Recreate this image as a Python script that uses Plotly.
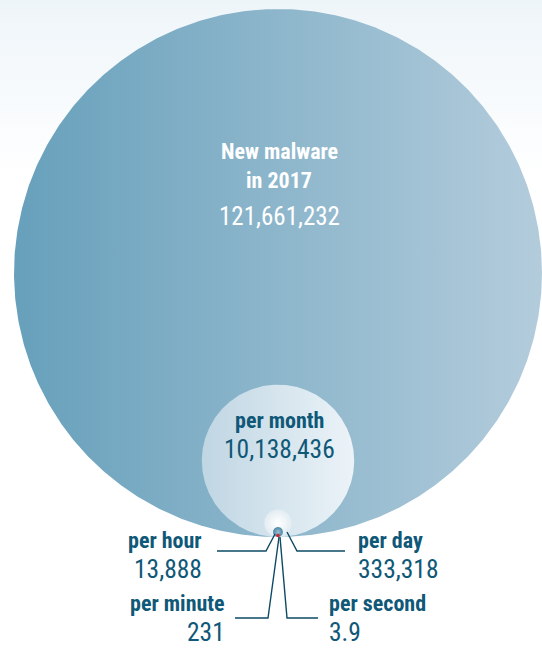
import numpy as np
import plotly.graph_objects as go

# Malware counts for 2017, broken down by time period
periods = ["in 2017", "per month", "per day", "per hour", "per minute", "per second"]
counts = [121661232, 10138436, 333318, 13888, 231, 3.9]
count_labels = ["121,661,232", "10,138,436", "333,318", "13,888", "231", "3.9"]

W, H = 542, 648
R_PX = 264                 # pixel radius of the yearly circle
ANCHOR_PX = (278, 537)     # common tangent point at the bottom of all circles

TEAL = "#0f5877"
LINE = "#0d4a66"
FONT = ("Roboto Condensed, Noto Sans ExtraCondensed, Noto Sans Condensed, "
        "Liberation Sans Narrow, DejaVu Sans Condensed")

# area-proportional radii, every circle resting on y = 0
radii = np.sqrt(np.array(counts) / np.pi)
u = radii[0] / R_PX        # data units per pixel


def to_data(px, py):
    return (px - ANCHOR_PX[0]) * u, (ANCHOR_PX[1] - py) * u


x0, y1 = to_data(0, 0)
x1, y0 = to_data(W, H)

fig = go.Figure()

# soft blue wash at the top of the page
fig.add_trace(go.Scatter(
    x=[x0, x1, x1, x0, x0], y=[y0, y0, y1, y1, y0],
    mode="lines", line=dict(width=0, color="rgba(0,0,0,0)"), fill="toself",
    fillgradient=dict(type="vertical",
                      colorscale=[[0, "#ffffff"], [0.72, "#ffffff"], [1, "#eef5f9"]]),
    hoverinfo="skip", showlegend=False))


def circle(r, c0, c1, kind):
    t = np.linspace(0, 2 * np.pi, 721)
    return go.Scatter(
        x=r * np.cos(t), y=r + r * np.sin(t),
        mode="lines", line=dict(width=0, color="rgba(0,0,0,0)"), fill="toself",
        fillgradient=dict(type=kind, colorscale=[[0, c0], [1, c1]]),
        hoverinfo="skip", showlegend=False)


fig.add_trace(circle(radii[0], "#67a0bb", "#b3ccdc", "horizontal"))
fig.add_trace(circle(radii[1], "#bfd6e3", "#ecf3f8", "horizontal"))
fig.add_trace(circle(radii[2], "#ffffff", "#e2ecf2", "radial"))
# the hourly circle is kept at a visible minimum size
fig.add_trace(circle(max(radii[3], 5 * u), "#9cc0d3", "#4a84a3", "radial"))
# minute / second counts are far below a pixel: a single red dot marks them
fig.add_trace(go.Scatter(x=[0], y=[1.5 * u], mode="markers",
                         marker=dict(size=3.5, color="#d8232a"),
                         hoverinfo="skip", showlegend=False))

# leader lines (pixel paths from label to circle)
leaders = [
    [(217, 551), (266, 551), (275, 534)],   # per hour
    [(235, 618), (268, 618), (279, 537)],   # per minute
    [(287, 532), (297, 551), (345, 551)],   # per day
    [(280, 537), (287, 618), (318, 618)],   # per second
]
for path in leaders:
    pts = [to_data(px, py) for px, py in path]
    fig.add_trace(go.Scatter(x=[p[0] for p in pts], y=[p[1] for p in pts],
                             mode="lines", line=dict(color=LINE, width=1.4),
                             hoverinfo="skip", showlegend=False))


def label(text, px, py, size, color, bold, anchor="center"):
    x, y = to_data(px, py)
    fig.add_annotation(x=x, y=y, text=f"<b>{text}</b>" if bold else text,
                       showarrow=False, xanchor=anchor, yanchor="middle",
                       font=dict(family=FONT, size=size, color=color,
                                 weight=700 if bold else 400))


LBL = 22
NUM = 25.5
# yearly total
label("New malware", 279, 151, LBL, "white", True)
label(periods[0], 279, 180, LBL, "white", True)
label(count_labels[0], 279, 216, 25, "white", False)
# monthly
label(periods[1], 279, 420, LBL, TEAL, True)
label(count_labels[1], 279, 449, NUM, TEAL, False)
# hourly / per minute on the left
label(periods[3], 204, 540, LBL, TEAL, True, "right")
label(count_labels[3], 204, 569, NUM, TEAL, False, "right")
label(periods[4], 227, 603, LBL, TEAL, True, "right")
label(count_labels[4], 227, 632, NUM, TEAL, False, "right")
# daily / per second on the right
label(periods[2], 356, 540, LBL, TEAL, True, "left")
label(count_labels[2], 356, 569, NUM, TEAL, False, "left")
label(periods[5], 327, 603, LBL, TEAL, True, "left")
label(count_labels[5], 327, 632, NUM, TEAL, False, "left")

fig.update_layout(
    width=W, height=H, autosize=False,
    margin=dict(l=0, r=0, t=0, b=0),
    paper_bgcolor="white", plot_bgcolor="white",
    xaxis=dict(range=[x0, x1], visible=False, fixedrange=True),
    yaxis=dict(range=[y0, y1], visible=False, fixedrange=True),
    showlegend=False,
)

fig.write_html("out.html", config={"displayModeBar": False})
